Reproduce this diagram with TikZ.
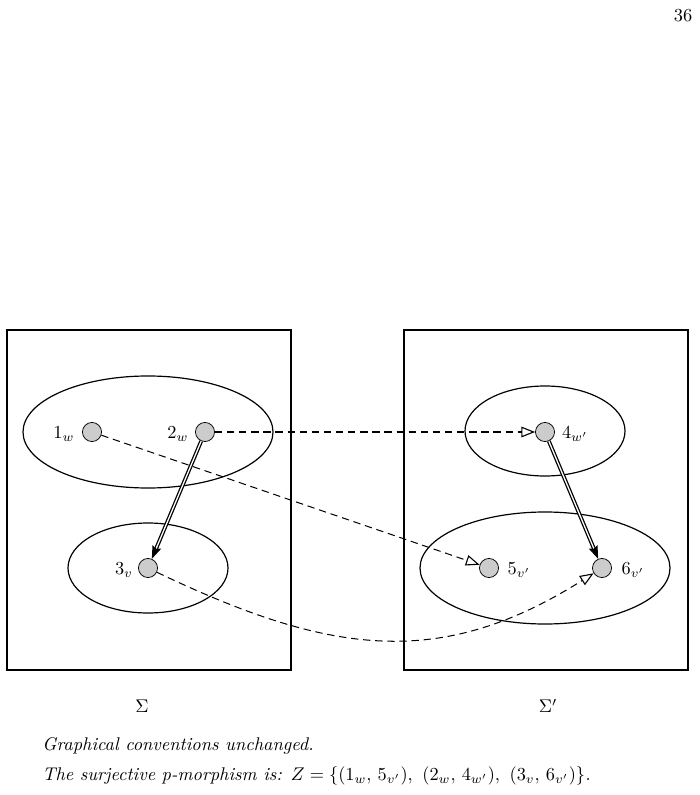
\documentclass[tikz,border=0pt]{standalone}
\usetikzlibrary{arrows.meta}
\begin{document}
\begin{tikzpicture}[x=0.545pt,y=-0.545pt,
  world/.style={circle,draw,fill=black!20,minimum size=10.4pt,inner sep=0pt,line width=0.4pt},
  boxframe/.style={draw,line width=0.65pt},
  cluster/.style={draw,line width=0.65pt},
  zmap/.style={dash pattern=on 4pt off 2.6pt,line width=0.55pt,-{Triangle[open,length=7.5pt,width=5.8pt,line width=0.6pt]}},
  rel/.style={double,double distance=0.7pt,line width=0.7pt,-{Stealth[length=7pt,width=5pt,inset=1pt]}},
  lbl/.style={inner sep=0pt,font=\normalsize}]
\useasboundingbox (0,0) rectangle (699,795);
\node[lbl] (page) at (683,16) {36};
% frames
\draw[boxframe] (7,330) rectangle (291,670);
\draw[boxframe] (404,330) rectangle (688,670);
% clusters
\draw[cluster] (148,432) ellipse [x radius=125, y radius=56];
\draw[cluster] (148,568) ellipse [x radius=80, y radius=45];
\draw[cluster] (545,431) ellipse [x radius=80, y radius=45];
\draw[cluster] (545,568) ellipse [x radius=125, y radius=56];
% worlds
\node[world] (n1) at (92,432) {};
\node[world] (n2) at (205,432) {};
\node[world] (n3) at (148,568) {};
\node[world] (n4) at (545,432) {};
\node[world] (n5) at (489,568) {};
\node[world] (n6) at (602,568) {};
\node[lbl] (l1) at (64,434) {$1_w$};
\node[lbl] (l2) at (178,434) {$2_w$};
\node[lbl] (l3) at (124,570) {$3_v$};
\node[lbl] (l4) at (575,434) {$4_{w'}$};
\node[lbl] (l5) at (519,570) {$5_{v'}$};
\node[lbl] (l6) at (633,570) {$6_{v'}$};
% relations
\draw[rel] (n2) -- (n3);
\draw[rel] (n4) -- (n6);
% morphism
\draw[zmap] (n2) -- (n4);
\draw[zmap] (n1) -- (n5);
\draw[zmap] (n3) .. controls (330,655) and (440,670) .. (n6);
% captions
\node[lbl] (s1) at (142,706) {$\Sigma$};
\node[lbl] (s2) at (548,706) {$\Sigma'$};
\node[lbl,anchor=west] (t1) at (42,746) {\itshape Graphical conventions unchanged.};
\node[lbl,anchor=west] (t2) at (42,776) {\itshape The surjective p-morphism is: $Z=\{(1_w,\,5_{v'}),\ (2_w,\,4_{w'}),\ (3_v,\,6_{v'})\}$.};
\end{tikzpicture}
\end{document}
